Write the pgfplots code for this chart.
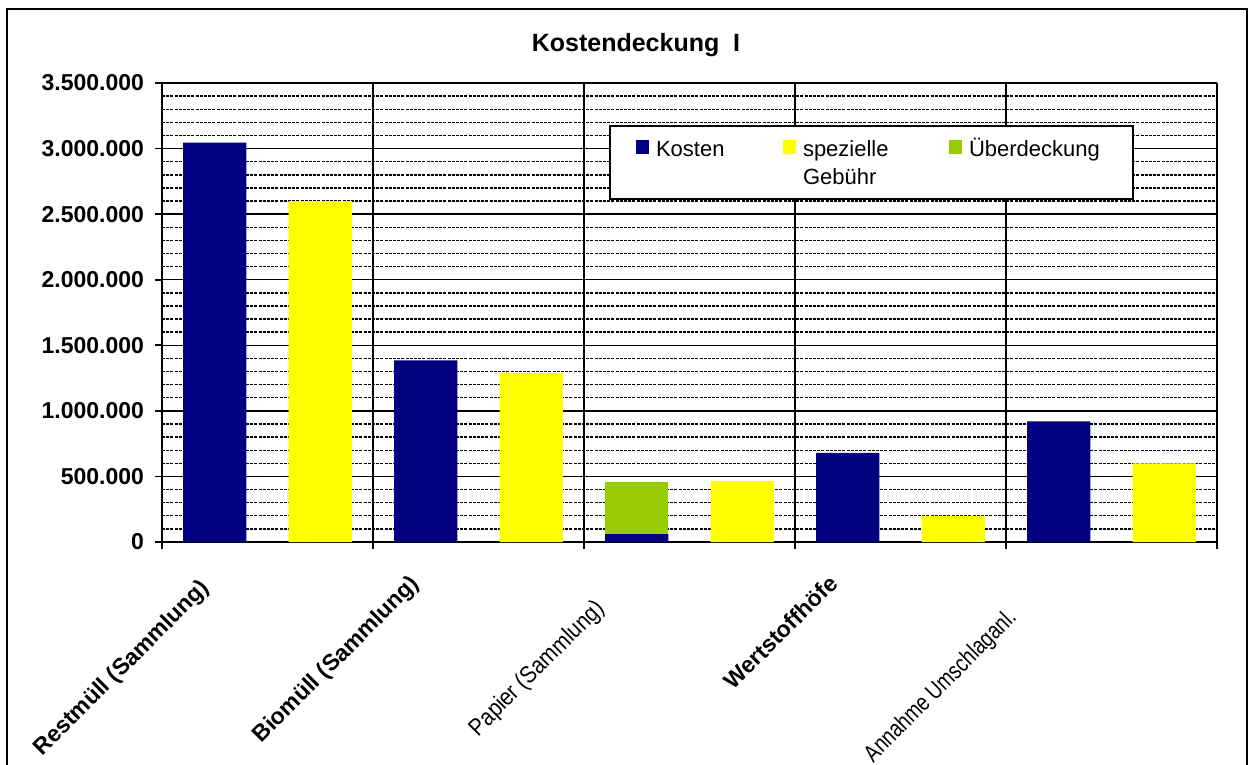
\documentclass[border=0pt]{standalone}
\usepackage{fontspec}
\setmainfont{Liberation Sans}
\usepackage{pgfplots}
\pgfplotsset{compat=1.18}

\definecolor{knavy}{RGB}{0,0,128}
\definecolor{kyellow}{RGB}{255,255,0}
\definecolor{kgreen}{RGB}{153,204,0}

\pgfplotsset{
  kbar/.style={ybar, bar width=0.3, bar shift=0pt, draw=none},
  klegend/.style={legend image code/.code={\fill[##1] (0pt,1pt) rectangle (6.5pt,8pt);}},
}

\begin{document}
\begin{tikzpicture}
% whole picture 1252 x 765 px at 0.5pt per px, origin = bottom left of the axis
\useasboundingbox (-81pt,-111.5pt) rectangle (545pt,271pt);
\draw[line width=1.1pt] (-77.5pt,-120pt) rectangle (542.5pt,266.5pt);

\node[font=\bfseries\fontsize{12.5}{15}\selectfont] at (237pt,248.5pt) {Kostendeckung\ \ I};

\begin{axis}[
  at={(0pt,0pt)}, anchor=south west,
  width=527.5pt, height=229.5pt, scale only axis,
  xmin=0, xmax=5, ymin=0, ymax=3500000,
  axis x line*=bottom, axis y line*=left,
  axis line style={black, line width=1.2pt},
  xtick={0,...,5}, xticklabels={},
  ytick={0,500000,...,3500000},
  minor y tick num=4,
  tick align=outside, major tick length=3.5pt, minor tick length=0pt,
  tick style={black, line width=0.8pt},
  xmajorgrids, ymajorgrids, yminorgrids,
  major grid style={black, line width=0.7pt},
  minor grid style={black, line width=0.7pt, dash pattern=on 1.5pt off 0.6pt},
  scaled y ticks=false,
  yticklabel style={font=\bfseries\fontsize{11.5}{13}\selectfont, xshift=-2pt,
    /pgf/number format/.cd, fixed, 1000 sep={.}, assume math mode=true},
  clip=false,
  klegend,
  legend columns=3,
  legend style={at={(0.4237,0.9085)}, anchor=north west, draw=black, line width=1pt,
    font=\fontsize{11}{13}\selectfont, inner xsep=13pt, inner ysep=4pt,
    nodes={anchor=base west, inner xsep=3.5pt, inner ysep=2pt},
    /tikz/every odd column/.append style={column sep=0pt},
    /tikz/every even column/.append style={column sep=0pt},
    row sep=0.5pt},
]
% Papier: Überdeckung 400.000 above Kosten 60.000 (drawn as the 460.000 total, Kosten on top)
\addplot[kbar, fill=kgreen, forget plot] coordinates {(2.25,460000)};

\addplot[kbar, fill=knavy] coordinates {
  (0.25,3045000) (1.25,1385000) (2.25,60000) (3.25,680000) (4.25,920000)};
\addlegendentry{\makebox[60pt][l]{Kosten}}

\addplot[kbar, fill=kyellow] coordinates {
  (0.75,2600000) (1.75,1290000) (2.75,465000) (3.75,200000) (4.75,600000)};
\addlegendentry{\makebox[69.5pt][l]{spezielle}}

\addlegendimage{fill=kgreen, draw=none}
\addlegendentry{Überdeckung}
% second legend row: continuation of "spezielle Gebühr"
\addlegendimage{empty legend}
\addlegendentry{}
\addlegendimage{empty legend}
\addlegendentry{Gebühr}

% category labels
\tikzset{catlab/.style={rotate=45, anchor=north east, inner sep=0pt}}
\node[yshift=-17.5pt, catlab, font=\bfseries\fontsize{11.5}{13}\selectfont] at (axis cs:0.171,0) {Restmüll (Sammlung)};
\node[yshift=-15.5pt, catlab, font=\bfseries\fontsize{11.5}{13}\selectfont] at (axis cs:1.166,0) {Biomüll (Sammlung)};
\node[yshift=-27.5pt, catlab, font=\fontsize{12}{14}\selectfont] at (axis cs:2.043,0) {\scalebox{0.87}[1]{Papier (Sammlung)}};
\node[yshift=-15.5pt, catlab, font=\bfseries\fontsize{11.5}{13}\selectfont] at (axis cs:3.153,0) {Wertstoffhöfe};
\node[yshift=-32pt, catlab, font=\fontsize{12}{14}\selectfont] at (axis cs:3.996,0) {\scalebox{0.8}[1]{Annahme Umschlaganl.}};
\end{axis}
\end{tikzpicture}
\end{document}
